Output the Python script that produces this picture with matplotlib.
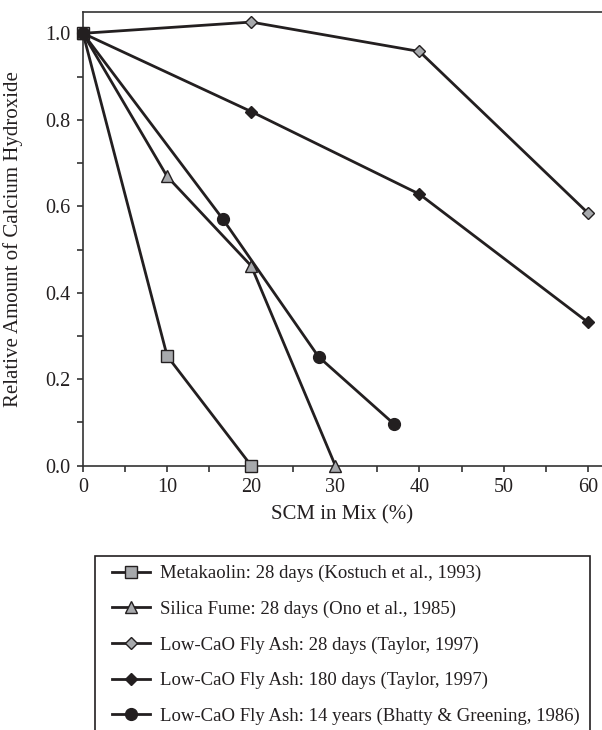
import matplotlib
matplotlib.use('Agg')
import matplotlib.pyplot as plt
from matplotlib.patches import Rectangle
from matplotlib.ticker import MultipleLocator, FormatStrFormatter

plt.rcParams['font.family'] = ['Liberation Serif', 'DejaVu Serif']

# SCM content (%) and relative Ca(OH)2 for each series
mk_x = [0, 10, 20]
mk_y = [1.0, 0.254, 0.0]

sf_x = [0, 10, 20, 30]
sf_y = [1.0, 0.669, 0.462, 0.0]

fa28_x = [0, 20, 40, 60]
fa28_y = [1.0, 1.026, 0.958, 0.585]

fa180_x = [0, 20, 40, 60]
fa180_y = [1.0, 0.819, 0.628, 0.332]

fa14_x = [0, 16.6, 28.0, 37.0]
fa14_y = [1.0, 0.571, 0.252, 0.096]

labels = ['Metakaolin: 28 days (Kostuch et al., 1993)',
          'Silica Fume: 28 days (Ono et al., 1985)',
          'Low-CaO Fly Ash: 28 days (Taylor, 1997)',
          'Low-CaO Fly Ash: 180 days (Taylor, 1997)',
          'Low-CaO Fly Ash: 14 years (Bhatty & Greening, 1986)']

dark = '#231f20'
grey = '#a7a9ac'

fig = plt.figure(figsize=(6.02, 7.30), dpi=100)
ax = fig.add_axes([83/602, (730-465.7)/730, (602-83)/602, (465.7-12.3)/730])

lw = 2.0
l1, = ax.plot(mk_x, mk_y, '-s', color=dark, lw=lw, ms=8, mfc=grey, mec=dark, mew=1, clip_on=False, zorder=3)
l2, = ax.plot(sf_x, sf_y, '-^', color=dark, lw=lw, ms=9, mfc=grey, mec=dark, mew=1, clip_on=False, zorder=3)
l3, = ax.plot(fa28_x, fa28_y, '-D', color=dark, lw=lw, ms=6, mfc=grey, mec=dark, mew=1, clip_on=False, zorder=3)
l4, = ax.plot(fa180_x, fa180_y, '-D', color=dark, lw=lw, ms=6, mfc=dark, mec=dark, mew=1, clip_on=False, zorder=3)
l5, = ax.plot(fa14_x, fa14_y, '-o', color=dark, lw=lw, ms=8.5, mfc=dark, mec=dark, mew=1, clip_on=False, zorder=3)

ax.set_xlim(0, 61.7)
ax.set_ylim(0, 1.0486)
ax.xaxis.set_major_locator(MultipleLocator(10))
ax.xaxis.set_minor_locator(MultipleLocator(5))
ax.yaxis.set_major_locator(MultipleLocator(0.2))
ax.yaxis.set_minor_locator(MultipleLocator(0.1))
ax.yaxis.set_major_formatter(FormatStrFormatter('%.1f'))

ax.spines['right'].set_visible(False)
for s in ['left', 'top', 'bottom']:
    ax.spines[s].set_color('#333333')
    ax.spines[s].set_linewidth(1.2)

ax.tick_params(which='both', direction='out', length=4, width=1.2, color='#333333',
               labelsize=14.5, labelcolor=dark)
ax.tick_params(axis='x', pad=5)
ax.tick_params(axis='y', pad=5)

ax.set_xlabel('SCM in Mix (%)', fontsize=15, color=dark, labelpad=6)
ax.set_ylabel('Relative Amount of Calcium Hydroxide', fontsize=15, color=dark, labelpad=16)

# legend box runs off the bottom of the figure
fig.patches.append(Rectangle((95/602, -0.1), (590-95)/602, 0.1 + 1 - 555.7/730,
                             transform=fig.transFigure, fill=False, ec=dark, lw=1.2))
fig.legend([l1, l2, l3, l4, l5], labels, loc='upper left',
           bbox_to_anchor=(112/602, 1 - 565/730), frameon=False,
           fontsize=13.5, handlelength=2.0, handletextpad=0.55,
           labelspacing=0.98, borderpad=0, borderaxespad=0,
           labelcolor=dark)

fig.savefig('out.png', dpi=100)
